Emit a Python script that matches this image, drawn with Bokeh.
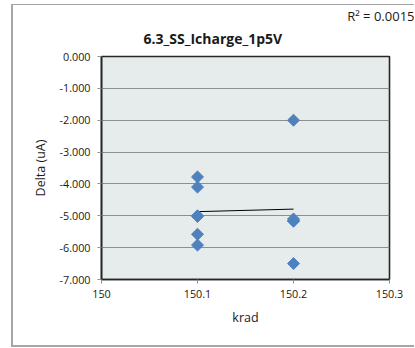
import math
from bokeh.plotting import figure
from bokeh.models import Title, Range1d, FixedTicker, NumeralTickFormatter
from bokeh.embed import file_html
from bokeh.resources import INLINE

# ---- data ----
title_text = "6.3_SS_Icharge_1p5V"
krad = [150.1, 150.1, 150.1, 150.1, 150.1, 150.1,
        150.2, 150.2, 150.2, 150.2, 150.2]
delta = [-3.78, -4.10, -5.00, -5.02, -5.58, -5.92,
         -2.00, -5.10, -5.15, -5.17, -6.50]
trend_x = [150.1, 150.2]
trend_y = [-4.87, -4.79]
r2_text = "R\u00b2 = 0.0015"
x_ticks = [150, 150.1, 150.2, 150.3]
y_ticks = [0, -1, -2, -3, -4, -5, -6, -7]

FONT = "Open Sans"
W, H = 415, 348
BORDER = "#A6A6A6"

p = figure(width=W, height=H, output_backend="svg", toolbar_location=None,
           x_range=Range1d(150, 150.3), y_range=Range1d(-7, 0),
           min_border_left=101, min_border_right=26, min_border_top=56, min_border_bottom=69)

# outer chart border drawn as the page element's background (canvas border is transparent)
g = f"linear-gradient({BORDER},{BORDER})"
p.styles = {
    "background": (f"{g} 11px 4px / 2px 343px no-repeat, "
                   f"{g} 11px 4px / 403px 1px no-repeat, "
                   f"{g} 11px 345px / 403px 2px no-repeat, white")
}
p.border_fill_color = None
p.background_fill_color = "#E6ECEC"
p.outline_line_color = "#262626"
p.outline_line_width = 1.6

p.xgrid.visible = False
p.ygrid.ticker = FixedTicker(ticks=y_ticks)
p.ygrid.grid_line_color = "#8E8E8E"
p.ygrid.grid_line_width = 1

p.xaxis.ticker = FixedTicker(ticks=x_ticks)
p.yaxis.ticker = FixedTicker(ticks=y_ticks)
p.xaxis.formatter = NumeralTickFormatter(format="0.[0]")
p.yaxis.formatter = NumeralTickFormatter(format="0.000")

for ax in (p.xaxis[0], p.yaxis[0]):
    ax.axis_line_color = "#262626"
    ax.axis_line_width = 1.6
    ax.major_tick_line_color = "#8E8E8E"
    ax.major_tick_out = 4
    ax.major_tick_in = 0
    ax.minor_tick_line_color = None
    ax.major_label_text_font = FONT
    ax.major_label_text_font_size = "10.8px"
    ax.major_label_text_color = "#1a1a1a"
    ax.axis_label_text_font = FONT
    ax.axis_label_text_font_size = "12.5px"
    ax.axis_label_text_font_style = "normal"
    ax.axis_label_text_color = "#1a1a1a"

p.xaxis.axis_label = "krad"
p.yaxis.axis_label = "Delta (uA)"
p.xaxis.major_label_standoff = 6
p.yaxis.major_label_standoff = 7
p.xaxis.axis_label_standoff = 8
p.yaxis.axis_label_standoff = 7

p.line(trend_x, trend_y, line_color="black", line_width=1)
p.scatter(krad, delta, marker="square", angle=math.pi / 4, size=8.5,
          fill_color="#4F81BD", line_color="#4F81BD")

# outer title slot: R² label of the trendline (top right)
p.title.text = r2_text
p.title.align = "right"
p.title.offset = -25
p.title.text_font = FONT
p.title.text_font_size = "13px"
p.title.text_font_style = "normal"
p.title.text_color = "#1a1a1a"
p.title.standoff = -15

# inner title slot: the chart title
p.add_layout(Title(text=title_text, align="left", offset=42, text_font=FONT,
                   text_font_size="14px", text_font_style="bold",
                   text_color="#1a1a1a", standoff=18), "above")

html = file_html(p, INLINE)
html = html.replace("</head>", "<style>html,body{margin:0;padding:0;overflow:hidden}</style></head>", 1)
open("out.html", "w").write(html)
